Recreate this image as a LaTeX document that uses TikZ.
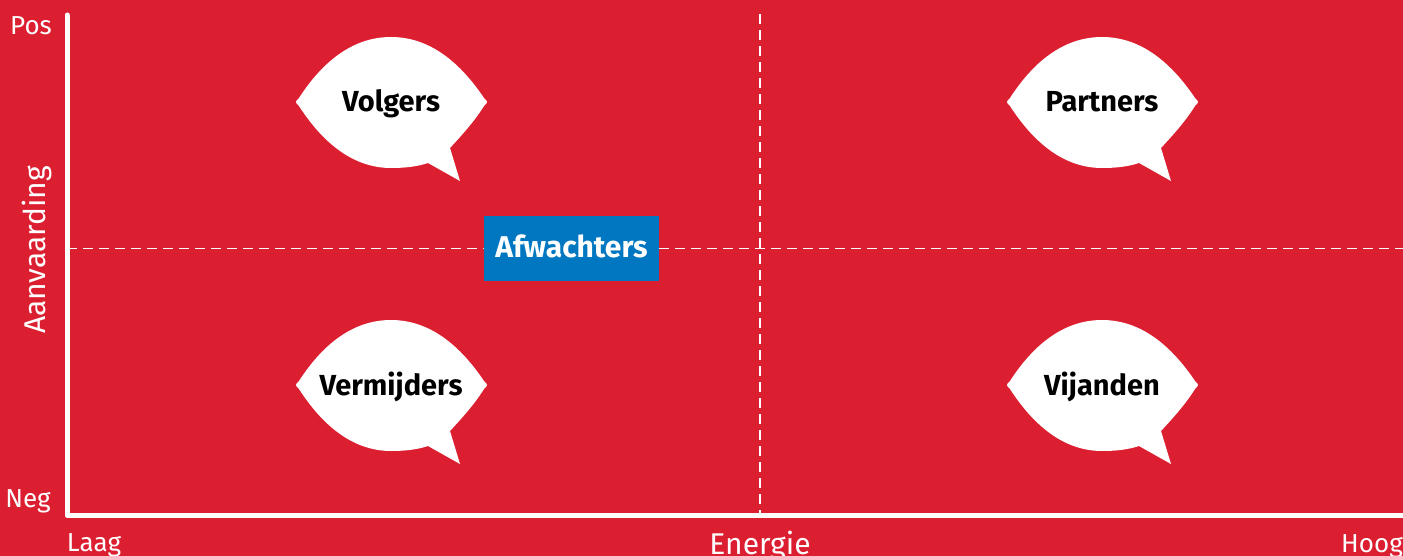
\documentclass[tikz,border=0pt]{standalone}
\usepackage{fontspec}
\setmainfont{Fira Sans}
\usetikzlibrary{positioning}
\definecolor{quadred}{HTML}{DC1F30}
\definecolor{quadblue}{HTML}{0077C0}
\tikzset{
	axislabel/.style={text=white, anchor=base, inner sep=0pt, font=\fontsize{26}{28}\selectfont},
	bubbletext/.style={text=black, anchor=base, inner sep=0pt, font=\fontsize{29}{31}\selectfont\bfseries},
	bubble/.pic={
		\fill[white] (-92,-4) .. controls (-70,-38) and (-40,-65) .. (0,-65)
			.. controls (40,-65) and (70,-38) .. (93,-4)
			.. controls (97,0) .. (93,4)
			.. controls (83,20) and (70,34) .. (59,46)
			-- (69,79) -- (37,61)
			.. controls (25,65) and (12,66) .. (0,66)
			.. controls (-40,66) and (-70,38) .. (-92,4)
			.. controls (-96,0) .. (-92,-4) -- cycle;
		\node[bubbletext] (-txt) at (0,10) {\tikzpictext};
	}
}

\begin{document}
\begin{tikzpicture}[x=1pt, y=-1pt]
		\fill[quadred] (0,0) rectangle (1403,556);
		\useasboundingbox (0,0) rectangle (1403,556);
		\coordinate (origin) at (67,515.5);
		\coordinate (ytop) at (67,15);
		\coordinate (xend) at (1403,515.5);
		\coordinate (midtop) at (760,14);
		\coordinate (midbot) at (760,515.5);
		\coordinate (midleft) at (67,248.5);
		\coordinate (midright) at (1403,248.5);
		% quadrant lines
		\draw[white, line width=1.4pt, dash pattern=on 10pt off 6pt] (midtop) -- (midbot);
		\draw[white, line width=1.4pt, dash pattern=on 10pt off 6pt] (midleft) -- (midright);
		% axes
		\draw[white, line width=5pt, line cap=round, line join=round] (ytop) -- (origin) -- (xend);
		\node[axislabel] (pos) at (31,35) {Pos};
		\node[axislabel] (neg) at (28,507) {Neg};
		\node[axislabel] (laag) at (94,551) {Laag};
		\node[axislabel, font=\fontsize{30}{32}\selectfont] (energie) at (760,554) {Energie};
		\node[axislabel] (hoog) at (1372,552) {Hoog};
		\node[axislabel, font=\fontsize{30}{32}\selectfont, rotate=90] (aanvaarding) at (45,250) {Aanvaarding};
		% groups
		\pic[pic text=Volgers] (volgers) at (391,102) {bubble};
		\pic[pic text=Partners] (partners) at (1102,102) {bubble};
		\pic[pic text=Vermijders] (vermijders) at (391,385) {bubble};
		\pic[pic text=Vijanden] (vijanden) at (1102,385) {bubble};
		\node[fill=quadblue, text=white, minimum width=175pt, minimum height=65pt, inner sep=0pt, text depth=5pt,
			font=\fontsize{30}{32}\selectfont\bfseries] (afwachters) at (571.5,248.5) {Afwachters};
	\end{tikzpicture}
\end{document}
